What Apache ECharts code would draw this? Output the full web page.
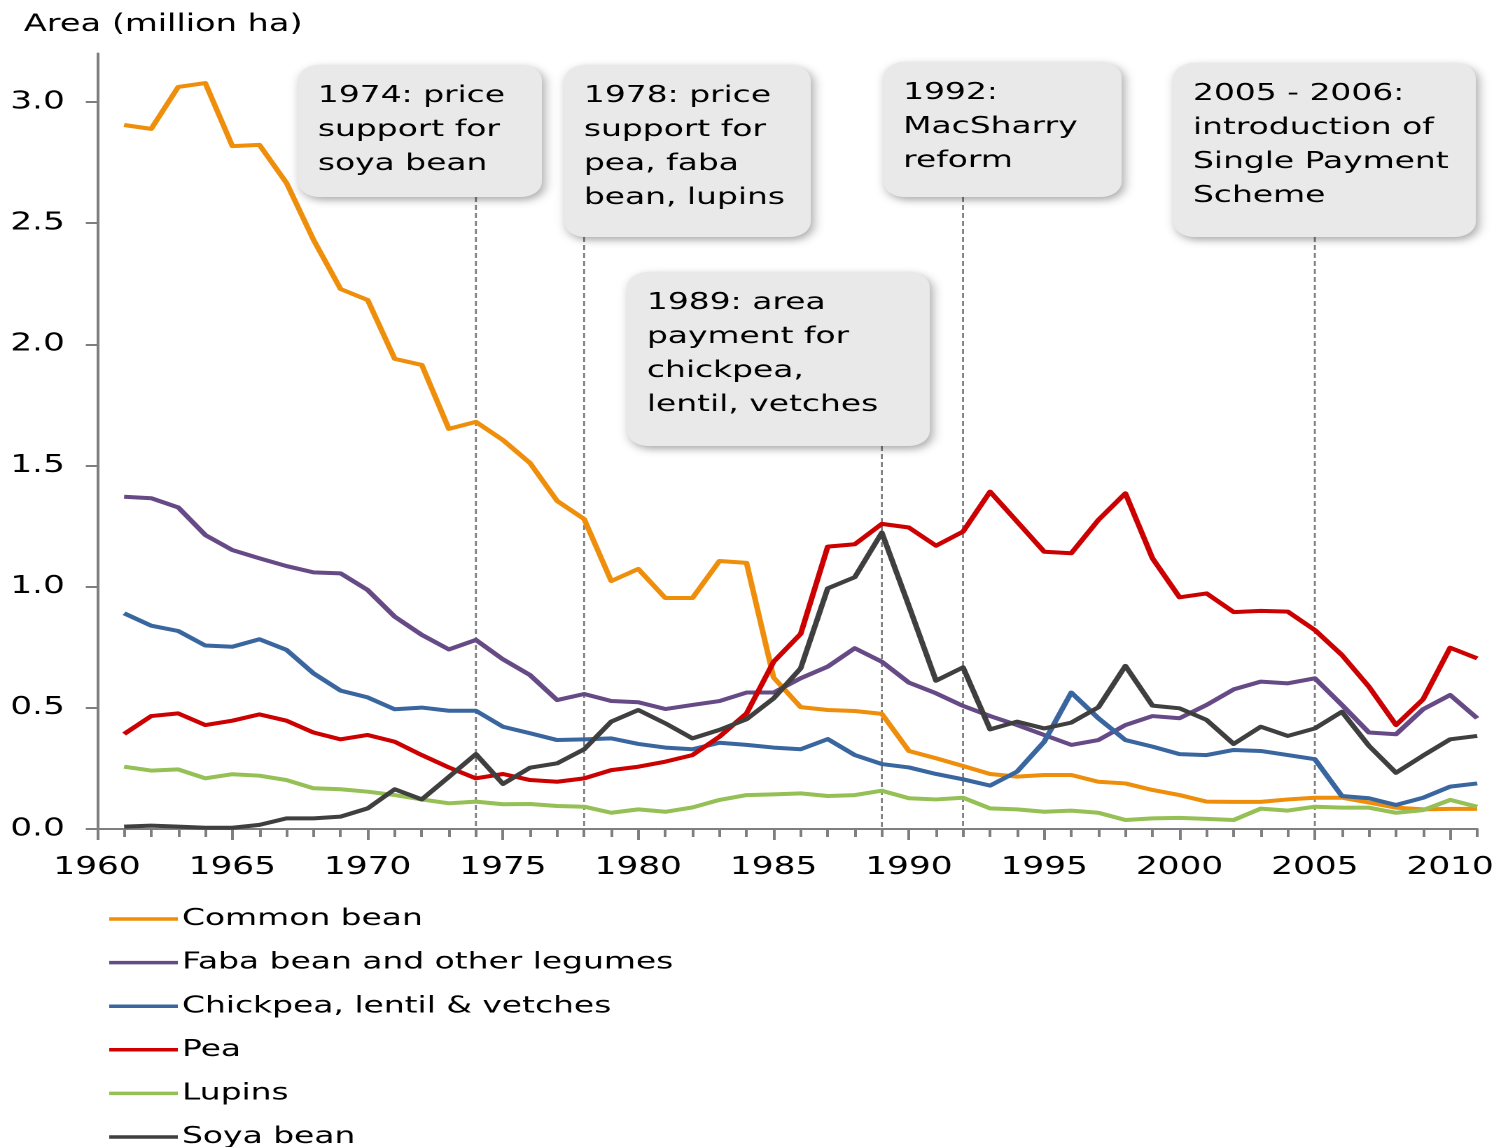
<!DOCTYPE html>
<html>
<head>
<meta charset="utf-8">
<script src="https://cdn.jsdelivr.net/npm/echarts@6/dist/echarts.min.js"></script>
<style>
  html, body { margin: 0; padding: 0; background: #fff; overflow: hidden; }
  /* the chart is laid out narrow and widened horizontally, giving the wide lettering of the figure */
  #chart { width: 1072px; height: 1147px; transform: scaleX(1.40019); transform-origin: 0 0; }
</style>
</head>
<body>
<div id="chart"></div>
<script>
// Harvested area in the EU, million ha, 1961-2011
const years = [1961, 1962, 1963, 1964, 1965, 1966, 1967, 1968, 1969, 1970,
  1971, 1972, 1973, 1974, 1975, 1976, 1977, 1978, 1979, 1980,
  1981, 1982, 1983, 1984, 1985, 1986, 1987, 1988, 1989, 1990,
  1991, 1992, 1993, 1994, 1995, 1996, 1997, 1998, 1999, 2000,
  2001, 2002, 2003, 2004, 2005, 2006, 2007, 2008, 2009, 2010, 2011];

const commonBean = [2.905, 2.889, 3.062, 3.078, 2.818, 2.823, 2.666, 2.431, 2.228, 2.183,
  1.940, 1.915, 1.651, 1.680, 1.605, 1.510, 1.354, 1.279, 1.023, 1.073,
  0.953, 0.953, 1.106, 1.098, 0.625, 0.503, 0.491, 0.487, 0.475, 0.322,
  0.292, 0.260, 0.227, 0.216, 0.223, 0.223, 0.195, 0.188, 0.161, 0.140,
  0.113, 0.112, 0.112, 0.122, 0.129, 0.129, 0.109, 0.088, 0.081, 0.083, 0.083];

const fabaBean = [1.371, 1.365, 1.327, 1.213, 1.151, 1.117, 1.085, 1.059, 1.055, 0.986,
  0.876, 0.801, 0.741, 0.780, 0.700, 0.635, 0.532, 0.557, 0.528, 0.523,
  0.495, 0.512, 0.528, 0.563, 0.563, 0.622, 0.670, 0.746, 0.690, 0.604,
  0.560, 0.508, 0.466, 0.429, 0.388, 0.347, 0.367, 0.429, 0.466, 0.457,
  0.512, 0.576, 0.608, 0.601, 0.622, 0.512, 0.398, 0.391, 0.494, 0.553, 0.457];

const chickpea = [0.890, 0.839, 0.817, 0.757, 0.752, 0.783, 0.739, 0.642, 0.571, 0.543,
  0.494, 0.501, 0.488, 0.488, 0.422, 0.395, 0.367, 0.370, 0.374, 0.351,
  0.336, 0.329, 0.356, 0.347, 0.336, 0.329, 0.371, 0.305, 0.268, 0.254,
  0.227, 0.205, 0.179, 0.237, 0.360, 0.563, 0.457, 0.367, 0.340, 0.309,
  0.305, 0.326, 0.322, 0.305, 0.288, 0.136, 0.127, 0.099, 0.129, 0.175, 0.188];

const pea = [0.392, 0.466, 0.477, 0.429, 0.447, 0.473, 0.447, 0.398, 0.370, 0.388,
  0.360, 0.305, 0.254, 0.209, 0.227, 0.202, 0.195, 0.209, 0.243, 0.257,
  0.278, 0.305, 0.381, 0.477, 0.690, 0.805, 1.165, 1.175, 1.259, 1.244,
  1.169, 1.227, 1.392, 1.268, 1.144, 1.138, 1.275, 1.385, 1.117, 0.956,
  0.972, 0.895, 0.900, 0.897, 0.821, 0.718, 0.587, 0.429, 0.535, 0.748, 0.704];

const lupins = [0.257, 0.241, 0.246, 0.209, 0.226, 0.220, 0.202, 0.168, 0.164, 0.154,
  0.140, 0.122, 0.106, 0.113, 0.102, 0.103, 0.095, 0.092, 0.067, 0.081,
  0.071, 0.089, 0.120, 0.140, 0.143, 0.147, 0.136, 0.140, 0.158, 0.127,
  0.122, 0.129, 0.085, 0.081, 0.071, 0.076, 0.067, 0.037, 0.044, 0.046,
  0.042, 0.037, 0.084, 0.076, 0.092, 0.088, 0.088, 0.067, 0.078, 0.120, 0.092];

const soyaBean = [0.010, 0.014, 0.010, 0.005, 0.005, 0.017, 0.044, 0.044, 0.051, 0.085,
  0.164, 0.122, 0.215, 0.309, 0.186, 0.253, 0.271, 0.329, 0.443, 0.491,
  0.436, 0.374, 0.409, 0.453, 0.539, 0.663, 0.993, 1.039, 1.223, 0.920,
  0.612, 0.667, 0.411, 0.443, 0.415, 0.439, 0.502, 0.673, 0.509, 0.498,
  0.450, 0.351, 0.422, 0.384, 0.415, 0.484, 0.343, 0.232, 0.303, 0.370, 0.384];

// axis ticks and labels
const yTicks = [0, 0.5, 1.0, 1.5, 2.0, 2.5, 3.0];
const xLabelYears = [1960, 1965, 1970, 1975, 1980, 1985, 1990, 1995, 2000, 2005, 2010];
const xMinorTicks = [1960, 1961, 1962, 1963, 1964, 1965, 1966, 1967, 1968, 1969, 1970,
  1971, 1972, 1973, 1974, 1975, 1976, 1977, 1978, 1979, 1980,
  1981, 1982, 1983, 1984, 1985, 1986, 1987, 1988, 1989, 1990,
  1991, 1992, 1993, 1994, 1995, 1996, 1997, 1998, 1999, 2000,
  2001, 2002, 2003, 2004, 2005, 2006, 2007, 2008, 2009, 2010, 2011];

// policy events
const noteYears = [1974, 1978, 1989, 1992, 2005];
const noteTexts = [
  '1974: price\nsupport for\nsoya bean',
  '1978: price\nsupport for\npea, faba\nbean, lupins',
  '1989: area\npayment for\nchickpea,\nlentil, vetches',
  '1992:\nMacSharry\nreform',
  '2005 - 2006:\nintroduction of\nSingle Payment\nScheme'
];

const seriesNames = ['Common bean', 'Faba bean and other legumes', 'Chickpea, lentil & vetches', 'Pea', 'Lupins', 'Soya bean'];
const seriesValues = [commonBean, fabaBean, chickpea, pea, lupins, soyaBean];

// presentation
const colors = ['#EE8E0B', '#664A86', '#3A66A0', '#CC0000', '#95C055', '#3F3F3F'];
const FONT = '"DejaVu Sans", Verdana, sans-serif';
const TEXT = '#000';
const boxLayout = [  // left, top, width, height (px, before widening)
  [213, 65, 174, 132],
  [403, 65, 176, 172],
  [448, 272, 216, 174],
  [631, 62, 170, 135],
  [838, 63, 216, 174]
];

const chart = echarts.init(document.getElementById('chart'), null, { renderer: 'canvas', devicePixelRatio: 2 });
const axisGray = '#7f7f7f';

chart.setOption({
  animation: false,
  backgroundColor: '#fff',
  textStyle: { fontFamily: FONT },
  title: {
    text: 'Area (million ha)',
    left: 12, top: 8,
    textStyle: { fontFamily: FONT, fontSize: 24, fontWeight: 'normal', color: TEXT }
  },
  grid: { left: 69.3, right: 17, top: 53.5, bottom: 318, containLabel: false },
  legend: {
    data: seriesNames,
    orient: 'vertical',
    icon: 'rect',
    left: 78, top: 907, height: 320,
    itemWidth: 49, itemHeight: 3.5, itemGap: 19.6,
    padding: 0,
    textStyle: { fontFamily: FONT, fontSize: 23.5, color: TEXT, padding: [0, 0, 0, -2] }
  },
  xAxis: [{
    type: 'value', min: 1960, max: 2011,
    axisLine: { show: true, lineStyle: { color: axisGray, width: 2 } },
    axisTick: { show: true, length: 11, customValues: xLabelYears, lineStyle: { color: axisGray, width: 2 } },
    axisLabel: { customValues: xLabelYears, formatter: v => String(v), fontFamily: FONT, fontSize: 24.5, color: TEXT, margin: 26 },
    splitLine: { show: false }
  }, {
    type: 'value', min: 1960, max: 2011, position: 'bottom', gridIndex: 0,
    axisLine: { show: false },
    axisTick: { show: true, length: 8, customValues: xMinorTicks, lineStyle: { color: axisGray, width: 2 } },
    axisLabel: { show: false },
    splitLine: { show: false }
  }],
  yAxis: {
    type: 'value', min: 0, max: 3.2,
    axisLine: { show: true, lineStyle: { color: axisGray, width: 2 } },
    axisTick: { show: true, length: 8, customValues: yTicks, lineStyle: { color: axisGray, width: 2 } },
    axisLabel: { customValues: yTicks, formatter: v => v.toFixed(1), fontFamily: FONT, fontSize: 24.5, color: TEXT, margin: 23 },
    splitLine: { show: false }
  },
  series: seriesNames.map((name, i) => ({
    type: 'line',
    name: name,
    data: years.map((y, j) => [y, seriesValues[i][j]]),
    symbol: 'none',
    lineStyle: { width: 4, color: colors[i], join: 'round' },
    itemStyle: { color: colors[i] },
    z: 3
  }))
});

// event boxes with dashed leaders down to the year axis
const axisY = chart.convertToPixel({ yAxisIndex: 0 }, 0);
const graphics = [];
noteYears.forEach((yr, i) => {
  const [bx, by, bw, bh] = boxLayout[i];
  const lx = chart.convertToPixel({ xAxisIndex: 0 }, yr);
  graphics.push({
    type: 'line', z: 1, silent: true,
    shape: { x1: lx, y1: by + bh, x2: lx, y2: axisY },
    style: { stroke: '#808080', lineWidth: 1.4, lineDash: [5, 3] }
  });
  graphics.push({
    type: 'rect', z: 50, silent: true,
    shape: { x: bx, y: by, width: bw, height: bh, r: 15 },
    style: { fill: '#e9e9e9', shadowBlur: 8, shadowOffsetX: 2, shadowOffsetY: 3, shadowColor: 'rgba(0,0,0,0.35)' }
  });
  graphics.push({
    type: 'text', z: 51, silent: true,
    style: {
      x: bx + 14, y: by + 14, text: noteTexts[i],
      font: '23.5px ' + FONT, fill: TEXT, lineHeight: 34, verticalAlign: 'top'
    }
  });
});
chart.setOption({ graphic: graphics });
</script>
</body>
</html>
